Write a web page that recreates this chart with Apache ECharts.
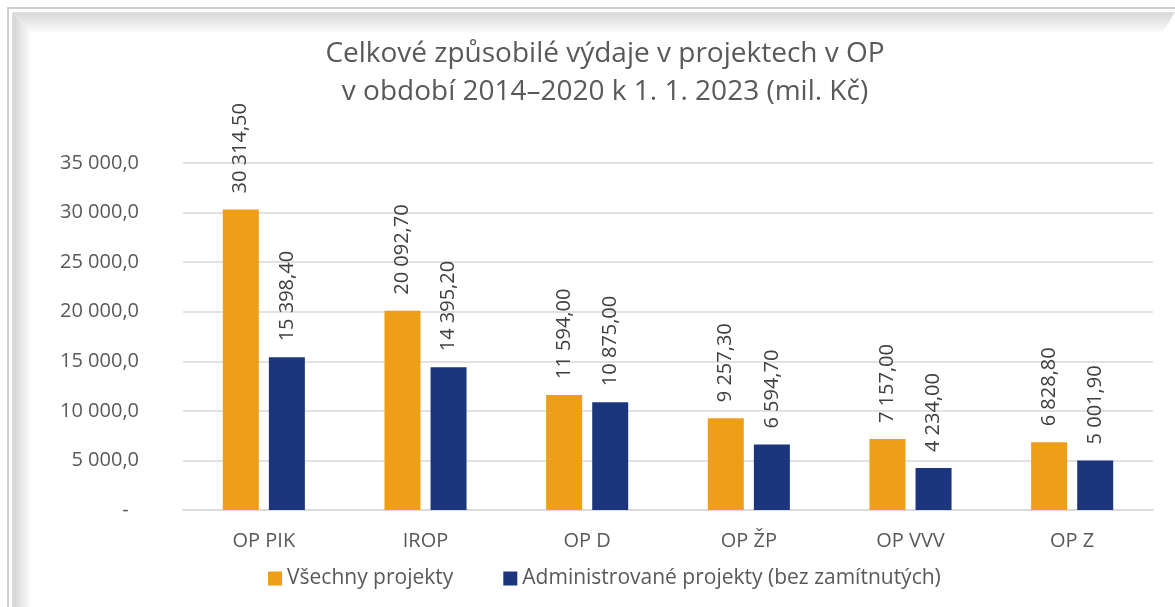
<!DOCTYPE html>
<html>
<head>
<meta charset="utf-8">
<script src="https://cdn.jsdelivr.net/npm/echarts@6/dist/echarts.min.js"></script>
<style>
  html, body { margin: 0; padding: 0; background: #fff; }
</style>
</head>
<body>
<!-- kontejner grafu -->
<div id="container" style="width: 1175px; height: 607px"></div>

<script>
// kategorie (operační programy)
const categories = ['OP PIK', 'IROP', 'OP D', 'OP ŽP', 'OP VVV', 'OP Z']
// hodnoty v mil. Kč
const vsechnyProjekty = [30314.5, 20092.7, 11594.0, 9257.3, 7157.0, 6828.8]
const administrovane = [15398.4, 14395.2, 10875.0, 6594.7, 4234.0, 5001.9]
const seriesNames = ['Všechny projekty', 'Administrované projekty (bez zamítnutých)']
// osa Y
const yTicks = [0, 5000, 10000, 15000, 20000, 25000, 30000, 35000]

const FONT = '"Open Sans", "Noto Sans", sans-serif'

// formát čísel s mezerou jako oddělovačem tisíců a čárkou
function fmt(v, dec) {
  const parts = v.toFixed(dec).split('.')
  const int = parts[0].replace(/\B(?=(\d{3})+(?!\d))/g, ' ')
  return dec > 0 ? int + ',' + parts[1] : int
}

var myChart = echarts.init(document.getElementById('container'))

const labelCfg = {
  show: true,
  position: 'top',
  rotate: 90,
  align: 'left',
  verticalAlign: 'middle',
  distance: 16,
  color: '#404040',
  fontFamily: FONT,
  fontSize: 20,
  formatter: (p) => fmt(p.value, 2)
}

const option = {
  backgroundColor: '#fff',
  animation: false,
  title: {
    text: 'Celkové způsobilé výdaje v projektech v OP\nv období 2014–2020 k 1. 1. 2023 (mil. Kč)',
    left: 600,
    top: 30,
    textAlign: 'center',
    textStyle: {
      fontFamily: FONT,
      fontSize: 28,
      fontWeight: 'normal',
      color: '#595959',
      lineHeight: 38
    }
  },
  // rámeček se stínem
  graphic: [
    {
      type: 'polygon',
      shape: { points: [[12, 12], [1175, 12], [1162, 34], [32, 34]] },
      style: {
        fill: new echarts.graphic.LinearGradient(0, 0, 0, 1, [
          { offset: 0, color: '#d6d6d6' },
          { offset: 1, color: '#ffffff' }
        ])
      },
      silent: true
    },
    {
      type: 'polygon',
      shape: { points: [[12, 12], [32, 34], [32, 607], [12, 607]] },
      style: {
        fill: new echarts.graphic.LinearGradient(0, 0, 1, 0, [
          { offset: 0, color: '#d2d2d2' },
          { offset: 1, color: '#ffffff' }
        ])
      },
      silent: true
    },
    {
      type: 'polyline',
      shape: { points: [[8, 607], [8, 8], [1175, 8]] },
      style: { stroke: '#cfcfcf', lineWidth: 2, fill: null },
      silent: true
    },
    {
      type: 'polyline',
      shape: { points: [[12.5, 607], [12.5, 12.5], [1175, 12.5]] },
      style: { stroke: '#e0e0e0', lineWidth: 1, fill: null },
      silent: true
    }
  ],
  legend: {
    data: seriesNames,
    top: 563,
    left: 263,
    itemWidth: 14,
    itemHeight: 14,
    itemGap: 50,
    icon: 'rect',
    textStyle: { fontFamily: FONT, fontSize: 21, color: '#595959' }
  },
  grid: {
    left: 183,
    right: 22,
    top: 163,
    bottom: 97
  },
  xAxis: [
    {
      type: 'category',
      data: categories,
      axisTick: { show: false },
      axisLine: { lineStyle: { color: '#d9d9d9', width: 1.5 } },
      axisLabel: {
        margin: 21,
        fontFamily: FONT,
        fontSize: 20,
        color: '#595959'
      }
    }
  ],
  yAxis: [
    {
      type: 'value',
      min: 0,
      max: 35000,
      interval: 5000,
      axisLine: { show: false },
      axisTick: { show: false },
      splitLine: { lineStyle: { color: '#d9d9d9', width: 1.5 } },
      axisLabel: {
        margin: 44,
        fontFamily: FONT,
        fontSize: 20,
        color: '#595959',
        formatter: (v) => (v === 0 ? '-  ' : fmt(v, 1))
      }
    }
  ],
  series: [
    {
      name: seriesNames[0],
      type: 'bar',
      data: vsechnyProjekty,
      barWidth: 36,
      barGap: '28%',
      itemStyle: { color: '#EE9F17' },
      label: labelCfg
    },
    {
      name: seriesNames[1],
      type: 'bar',
      data: administrovane,
      barWidth: 36,
      barGap: '28%',
      itemStyle: { color: '#1B367C' },
      label: labelCfg
    }
  ]
}

myChart.setOption(option)
</script>
</body>
</html>
